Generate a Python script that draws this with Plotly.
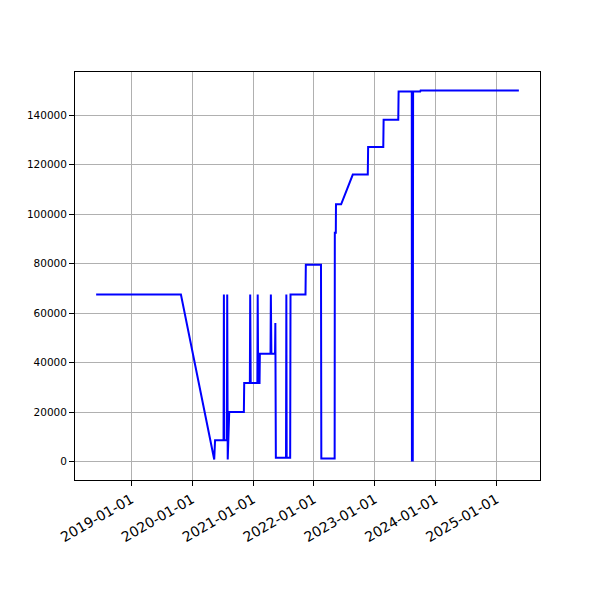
import pandas as pd
import plotly.graph_objects as go

dates = [
    "2018-06-04", "2019-10-26", "2020-05-13", "2020-05-18", "2020-07-08",
    "2020-07-10", "2020-07-12", "2020-07-28", "2020-07-30", "2020-08-02",
    "2020-08-11", "2020-11-07", "2020-11-09", "2020-12-13", "2020-12-15",
    "2020-12-18", "2021-01-27", "2021-01-29", "2021-02-01", "2021-02-09",
    "2021-02-11", "2021-04-16", "2021-04-18", "2021-04-21", "2021-05-13",
    "2021-05-15", "2021-05-18", "2021-07-18", "2021-07-20", "2021-07-22",
    "2021-08-12", "2021-08-14", "2021-11-12", "2021-11-14", "2022-02-13",
    "2022-02-15", "2022-05-06", "2022-05-07", "2022-05-13", "2022-05-14",
    "2022-06-14", "2022-08-23", "2022-11-21", "2022-11-23", "2023-02-22",
    "2023-02-24", "2023-05-23", "2023-05-25", "2023-08-12", "2023-08-13",
    "2023-08-17", "2023-08-18", "2023-08-20", "2023-10-02", "2023-10-04",
    "2025-05-16",
]
values = [
    67500, 67500, 800, 8600, 8600,
    67500, 8600, 8600, 67500, 800,
    20000, 20000, 31700, 31700, 67500,
    31700, 31700, 67500, 31700, 31700,
    43600, 43600, 67500, 43600, 43600,
    56000, 1500, 1500, 67500, 1500,
    1500, 67500, 67500, 79600, 79600,
    1200, 1200, 92500, 92500, 104000,
    104000, 116000, 116000, 127200, 127200,
    138200, 138200, 149600, 149600, 0,
    149600, 0, 149600, 149600, 150000,
    150000,
]
y_ticks = [0, 20000, 40000, 60000, 80000, 100000, 120000, 140000]
x_ticks = ["2019-01-01", "2020-01-01", "2021-01-01", "2022-01-01",
           "2023-01-01", "2024-01-01", "2025-01-01"]

d = pd.to_datetime(dates)
span = d.max() - d.min()
x_range = [d.min() - span * 0.05, d.max() + span * 0.05]
vmin, vmax = min(values), max(values)
vs = vmax - vmin
y_range = [vmin - vs * 0.05, vmax + vs * 0.05]

fig = go.Figure()
fig.add_trace(go.Scatter(x=d, y=values, mode="lines",
                         line=dict(color="#0000ff", width=2.0)))

axis_common = dict(
    showline=True, linecolor="black", linewidth=1.1, mirror=True,
    ticks="outside", ticklen=4.86, tickwidth=1.1, tickcolor="black",
    showgrid=True, gridcolor="#b0b0b0", gridwidth=1.1, zeroline=False,
)
fig.update_layout(
    width=600, height=600,
    margin=dict(l=67, r=68, t=64, b=128, autoexpand=False),
    plot_bgcolor="white", paper_bgcolor="white",
    showlegend=False,
    xaxis=dict(range=x_range, tickvals=pd.to_datetime(x_ticks),
               ticktext=x_ticks, tickangle=-30,
               tickfont=dict(family="DejaVu Sans", size=14, color="black"),
               **axis_common),
    yaxis=dict(range=y_range, tickvals=y_ticks,
               ticktext=[str(v) for v in y_ticks],
               tickfont=dict(family="DejaVu Sans", size=10.5, color="black"),
               **axis_common),
)
fig.write_html("out.html")
